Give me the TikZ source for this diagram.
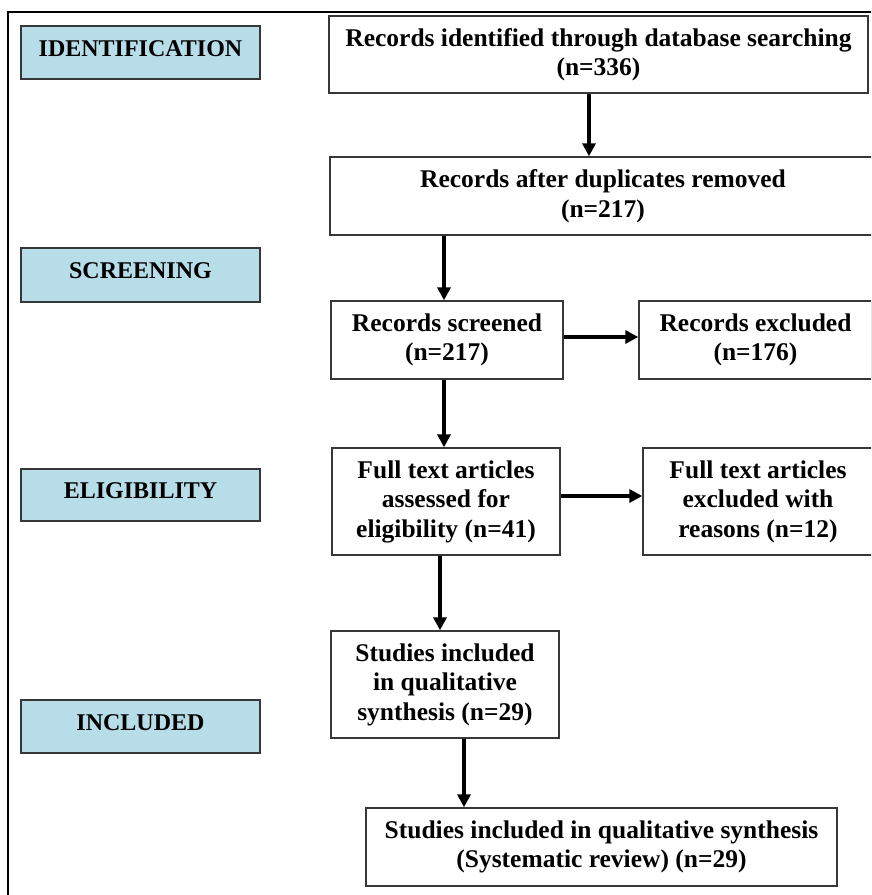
\documentclass[tikz,border=0pt]{standalone}
\usepackage{fontspec}
\setmainfont{Liberation Serif}
\usetikzlibrary{positioning}
\usetikzlibrary{arrows.meta}
\definecolor{phaseblue}{RGB}{183,222,232}
\definecolor{boxline}{RGB}{55,55,55}
\tikzset{
    flowbox/.style = {rectangle, draw=boxline, line width=1.4pt, fill=white, align=center, inner sep=0pt, font=\bfseries\fontsize{25.5}{29.5}\selectfont},
    phasebox/.style = {rectangle, draw=boxline, line width=1.4pt, fill=phaseblue, minimum width=239pt, inner sep=0pt, text depth=8pt, font=\bfseries\fontsize{24}{29}\selectfont},
    edgef/.style = {-{Triangle[length=13pt,width=13pt]}, line width=3.8pt},
    frame/.style = {line width=1.4pt, draw=black}
}

\begin{document}
\begin{tikzpicture}[x=1pt,y=-1pt]
\clip (0,0) rectangle (871,895);
\fill[white] (0,0) rectangle (871,895);
\draw[frame] (8,905) -- (8,12) -- (881,12);
%
\node[phasebox,minimum height=53pt] at (140.5,52.5) (lident) {IDENTIFICATION};
\node[phasebox,minimum height=54pt] at (140.5,275) (lscreen) {SCREENING};
\node[phasebox,minimum height=52pt] at (140.5,495) (lelig) {ELIGIBILITY};
\node[phasebox,minimum height=53pt] at (140.5,726.5) (lincl) {INCLUDED};
%
\node[flowbox,minimum width=539pt,minimum height=77pt] at (598.5,54.5) (ident) {Records identified through database searching\\(n=336)};
\node[flowbox,minimum width=546pt,minimum height=78pt] at (603,196) (dup) {Records after duplicates removed\\(n=217)};
\node[flowbox,minimum width=232pt,minimum height=78pt] at (447,340) (scr) {Records screened\\(n=217)};
\node[flowbox,minimum width=233pt,minimum height=78pt] at (755.5,340) (rexc) {Records excluded\\(n=176)};
\node[flowbox,minimum width=228pt,minimum height=107pt] at (446,501.5) (full) {Full text articles\\assessed for\\eligibility (n=41)};
\node[flowbox,minimum width=230pt,minimum height=107pt] at (758,501.5) (fexc) {Full text articles\\excluded with\\reasons (n=12)};
\node[flowbox,minimum width=228pt,minimum height=107pt] at (445,684.5) (incl) {Studies included\\in qualitative\\synthesis (n=29)};
\node[flowbox,minimum width=471pt,minimum height=78pt] at (601.5,847) (syst) {Studies included in qualitative synthesis\\(Systematic review) (n=29)};
%
\draw[edgef] ([xshift=-9.5pt]ident.south) -- ([xshift=-9.5pt]ident.south |- dup.north);
\draw[edgef] ([xshift=-3pt]scr.north |- dup.south) -- ([xshift=-3pt]scr.north);
\draw[edgef] ([yshift=3pt]scr.east) -- ([yshift=3pt]scr.east -| rexc.west);
\draw[edgef] ([xshift=-3pt]scr.south) -- ([xshift=-3pt]scr.south |- full.north);
\draw[edgef] ([yshift=5.5pt]full.east) -- ([yshift=5.5pt]full.east -| fexc.west);
\draw[edgef] ([xshift=-6pt]full.south) -- ([xshift=-6pt]full.south |- incl.north);
\draw[edgef] ([xshift=19pt]incl.south) -- ([xshift=19pt]incl.south |- syst.north);

\end{tikzpicture}
\end{document}
